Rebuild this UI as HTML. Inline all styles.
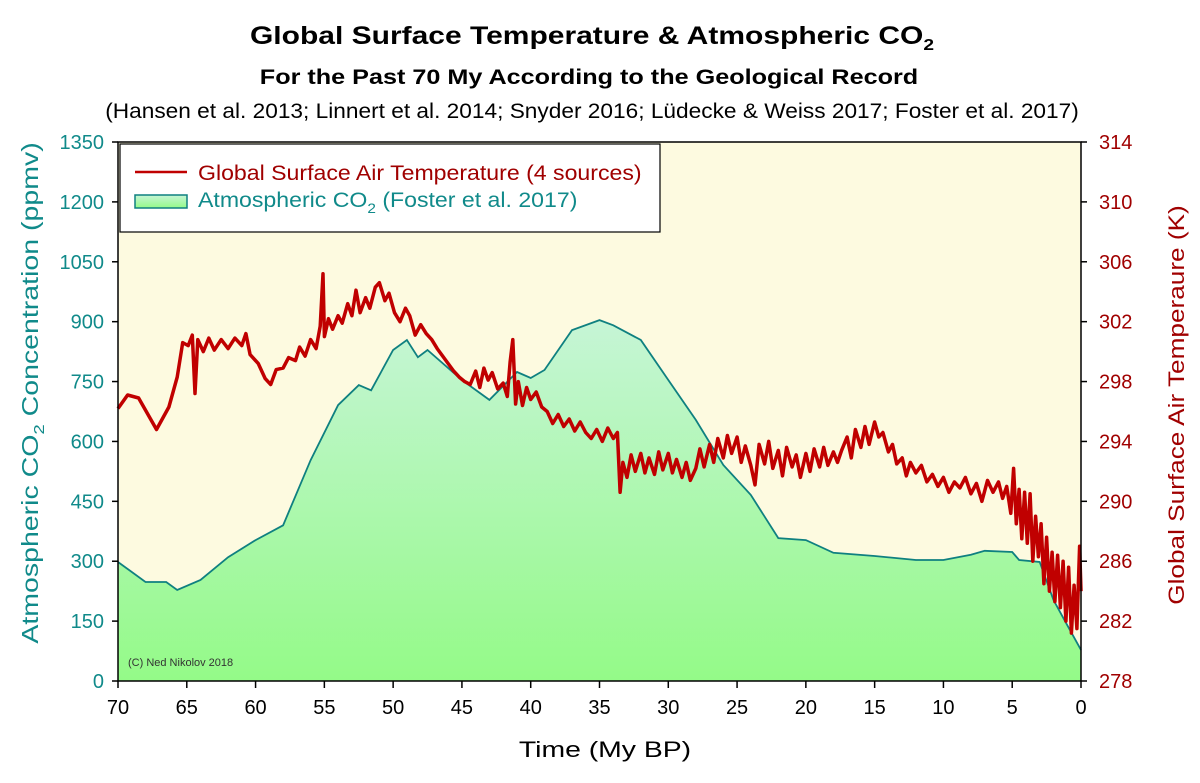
<!DOCTYPE html>
<html><head><meta charset="utf-8"><style>
body{margin:0;background:#fff;width:1200px;height:778px;overflow:hidden;font-family:"Liberation Sans",sans-serif}
</style></head><body>
<svg id="chart" width="1200" height="778" xmlns="http://www.w3.org/2000/svg">
<defs>
<linearGradient id="g" x1="0" y1="0" x2="0" y2="1"><stop offset="0" stop-color="#c6f5d6"/><stop offset="1" stop-color="#94fa88"/></linearGradient>
<linearGradient id="lg" x1="0" y1="0" x2="0" y2="1"><stop offset="0" stop-color="#c6f5d6"/><stop offset="1" stop-color="#94fa88"/></linearGradient>
</defs>
<text transform="translate(592,44) scale(1.2,1)" text-anchor="middle" font-size="25" font-weight="bold">Global Surface Temperature &amp; Atmospheric CO<tspan font-size="16" dy="6">2</tspan></text>
<text transform="translate(589,84) scale(1.2,1)" text-anchor="middle" font-size="21" font-weight="bold">For the Past 70 My According to the Geological Record</text>
<text transform="translate(592,118) scale(1.08,1)" text-anchor="middle" font-size="21">(Hansen et al. 2013; Linnert et al. 2014; Snyder 2016; Lüdecke &amp; Weiss 2017; Foster et al. 2017)</text>
<rect x="118" y="142" width="963" height="539" fill="#fdfae0"/>
<g id="marks"></g>
<rect x="118" y="142" width="963" height="539" fill="none" stroke="#000" stroke-width="1.5"/>
<g id="axes"></g>
<text x="128" y="666" font-size="11" fill="#333">(C) Ned Nikolov 2018</text>
<g>
<rect x="120" y="144" width="540" height="88" fill="#fff" stroke="#000" stroke-width="1.2"/>
<line x1="135" y1="172" x2="187" y2="172" stroke="#c00000" stroke-width="2.5"/>
<text transform="translate(198,180) scale(1.1,1)" font-size="21" fill="#a00000">Global Surface Air Temperature (4 sources)</text>
<rect x="135" y="195" width="52" height="13" fill="url(#lg)" stroke="#0f8080" stroke-width="1.5"/>
<text transform="translate(198,207) scale(1.1,1)" font-size="21" fill="#108a8a">Atmospheric CO<tspan font-size="14" dy="6">2</tspan><tspan dy="-6"> (Foster et al. 2017)</tspan></text>
</g>
<text transform="translate(38,393) rotate(-90) scale(1.24,1)" text-anchor="middle" font-size="23" fill="#108a8a">Atmospheric CO<tspan font-size="15" dy="6">2</tspan><tspan dy="-6"> Concentration (ppmv)</tspan></text>
<text transform="translate(1184,405) rotate(-90) scale(1.19,1)" text-anchor="middle" font-size="22" fill="#a00000">Global Surface Air Temperaure (K)</text>
<text transform="translate(605,757) scale(1.29,1)" text-anchor="middle" font-size="22">Time (My BP)</text>
</svg>
<script>
const co2Ages=[70,68,66.5,65.7,64,62,60,58,56,54,52.5,51.6,50,49,48.2,47.5,45,43,41,40,39,37,35,34,32,30,28,26,24,22,20,18,15,12,10,8,7,5,4.5,3,2,1,0];
const co2Vals=[298,248,248,228,253,310,353,390,553,691,741,728,829,854,811,829,754,704,774,759,779,879,904,891,854,754,654,541,466,358,353,321,313,303,303,316,326,323,303,298,203,140,78];
const tempAges=[70,69.3,68.5,67.2,66.3,65.7,65.3,64.9,64.6,64.4,64.2,63.8,63.4,63,62.5,62,61.5,61,60.7,60.4,59.8,59.3,58.9,58.5,58,57.6,57.1,56.8,56.4,56,55.6,55.3,55.1,55,54.7,54.4,54,53.7,53.3,53,52.7,52.4,52,51.7,51.3,51,50.6,50.3,49.9,49.5,49.1,48.8,48.4,48,47.6,47.2,46.8,46.4,46,45.6,45.2,44.8,44.4,44,43.7,43.4,43.1,42.8,42.4,42,41.7,41.5,41.3,41.1,40.9,40.6,40.3,40,39.6,39.2,38.8,38.4,38,37.6,37.2,36.8,36.4,36,35.6,35.2,34.8,34.4,34,33.7,33.5,33.3,33,32.7,32.4,32,31.7,31.4,31,30.7,30.4,30,29.7,29.4,29,28.7,28.4,28,27.7,27.4,27,26.7,26.4,26,25.7,25.4,25,24.7,24.4,24,23.7,23.4,23,22.7,22.4,22,21.7,21.4,21,20.7,20.4,20,19.7,19.4,19,18.7,18.4,18,17.7,17.4,17,16.7,16.4,16,15.7,15.4,15,14.7,14.4,14,13.7,13.4,13,12.7,12.4,12,11.6,11.2,10.8,10.4,10,9.6,9.2,8.8,8.4,8,7.6,7.2,6.8,6.4,6,5.7,5.4,5.1,4.9,4.7,4.5,4.3,4.1,3.9,3.7,3.5,3.3,3.1,2.9,2.7,2.5,2.3,2.1,1.9,1.7,1.5,1.3,1.1,0.9,0.7,0.5,0.3,0.1,0];
const tempVals=[296.2,297.1,296.9,294.8,296.3,298.3,300.6,300.4,301.1,297.2,300.8,300,300.9,300.1,300.8,300.2,300.9,300.4,301.2,299.8,299.2,298.2,297.8,298.8,298.9,299.6,299.4,300.3,299.7,300.8,300.2,301.7,305.2,301,302.2,301.5,302.4,301.9,303.2,302.4,304.1,302.6,303.6,302.9,304.3,304.6,303.4,303.9,302.6,302,302.9,302.4,301.1,301.8,301.2,300.8,300.2,299.7,299.2,298.7,298.3,298,297.8,298.7,297.6,298.9,298.1,298.6,297.5,297.9,297,299.3,300.8,296.5,298,296.4,297.6,296.8,297.3,296.3,296,295.2,295.8,295,295.5,294.7,295.3,294.6,294.2,294.8,294,294.9,294.2,294.6,290.6,292.6,291.6,293.1,292,293.2,291.9,292.9,291.8,293.3,292.1,293.2,291.9,292.8,291.6,292.6,291.4,292.2,293.5,292.3,293.8,292.6,294.2,292.9,294.4,293.2,294.3,292.6,293.7,292.4,291.1,293.8,292.5,294,292.2,293.4,291.7,293.6,292.3,293.1,291.6,293.2,292,293.5,292.3,293.6,292.4,293.3,292.6,293.4,294.3,292.9,294.8,293.6,295,293.8,295.3,294.3,294.6,293.3,293.8,292.5,292.9,291.7,292.6,291.9,292.4,291.3,291.8,291,291.6,290.6,291.3,290.9,291.6,290.5,291.2,290,291.4,290.6,291.3,290.2,291,289.2,292.2,288.5,290.8,287.5,290.6,287.2,290.5,286,289,286.3,288.5,284.5,287.6,284,286.6,283.3,286.4,282.9,286,282,285.6,281.2,284.4,281.5,287,284];
const xTicks=[70,65,60,55,50,45,40,35,30,25,20,15,10,5,0];
const leftTicks=[0,150,300,450,600,750,900,1050,1200,1350];
const rightTicks=[278,282,286,290,294,298,302,306,310,314];

const X0=118,X1=1081,Y0=681,Y1=142;
const xs=a=>X0+(70-a)/70*(X1-X0);
const yl=v=>Y0-v/1350*(Y0-Y1);
const yr=v=>Y0-(v-278)/36*(Y0-Y1);
const NS='http://www.w3.org/2000/svg';
const marks=document.getElementById('marks'),axes=document.getElementById('axes');
function mk(tag,attrs,parent){const e=document.createElementNS(NS,tag);for(const k in attrs)e.setAttribute(k,attrs[k]);parent.appendChild(e);return e;}

let d='M'+xs(co2Ages[0])+','+Y0;
co2Ages.forEach((a,i)=>{d+=' L'+xs(a).toFixed(1)+','+yl(co2Vals[i]).toFixed(1);});
d+=' L'+xs(0)+','+Y0+' Z';
const area=mk('path',{d:d,fill:'url(#g)'},marks);


let dl='';co2Ages.forEach((a,i)=>{dl+=(i?' L':'M')+xs(a).toFixed(1)+','+yl(co2Vals[i]).toFixed(1);});
const co2Line=mk('path',{d:dl,fill:'none',stroke:'#0f8080','stroke-width':1.8},marks);


let dt='';tempAges.forEach((a,i)=>{dt+=(i?' L':'M')+xs(a).toFixed(1)+','+yr(tempVals[i]).toFixed(1);});
const tLine=mk('path',{d:dt,fill:'none',stroke:'#c00000','stroke-width':3.5,'stroke-linejoin':'round'},marks);



xTicks.forEach(t=>{
 const x=xs(t);
 const l=mk('line',{x1:x,y1:Y0,x2:x,y2:Y0+7,stroke:'#000','stroke-width':1.5},axes);
 
 
 const tx=mk('text',{x:x,y:Y0+33,'text-anchor':'middle','font-size':20},axes);
 tx.textContent=t;
 
 
});
leftTicks.forEach(t=>{
 const y=yl(t);
 const l=mk('line',{x1:X0-6,y1:y,x2:X0,y2:y,stroke:'#000','stroke-width':1.5},axes);
 
 
 const tx=mk('text',{x:X0-14,y:y+7,'text-anchor':'end','font-size':20,fill:'#108a8a'},axes);
 tx.textContent=t;
 
 
});
rightTicks.forEach(t=>{
 const y=yr(t);
 const l=mk('line',{x1:X1,y1:y,x2:X1+6,y2:y,stroke:'#000','stroke-width':1.5},axes);
 
 
 const tx=mk('text',{x:X1+18,y:y+7,'text-anchor':'start','font-size':20,fill:'#a00000'},axes);
 tx.textContent=t;
 
 
});
</script>
</body></html>
